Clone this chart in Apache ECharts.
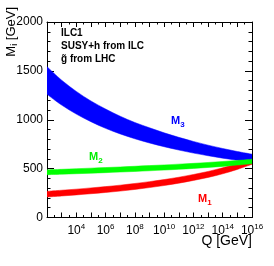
<!DOCTYPE html>
<html><head><meta charset="utf-8">
<script src="https://cdn.jsdelivr.net/npm/echarts@6/dist/echarts.min.js"></script>
<style>html,body{margin:0;padding:0;background:#fff}#c{width:274px;height:266px}</style>
</head><body><div id="c"></div>
<script>
const logQ = [2,3,4,5,6,7,8,9,10,11,12,13,14,15,16];
const m3Upper = [1543,1405,1290,1192,1110,1036,972,918,866,820,778,740,706,675,648];
const m3Lower = [1260,1150,1058,980,912,855,805,762,724,690,659,632,607,585,565];
const m2Upper = [488,493,499,505,511,517,524,531,538,546,554,563,573,584,596];
const m2Lower = [438,443,448,453,459,465,471,478,485,493,502,512,523,536,550];
const m1Upper = [268,279,290,303,316,331,348,367,388,412,440,471,508,552,605];
const m1Lower = [210,220,231,243,256,270,287,306,327,351,379,410,447,492,545];
const yTicks = [0,500,1000,1500,2000];
const xLabelExps = [4,6,8,10,12,14,16];
const textLines = ['ILC1','SUSY+h from ILC','g\u0303 from LHC'];

const FONT = 'Liberation Sans, Arial, sans-serif';
const chart = echarts.init(document.getElementById('c'));

// Catmull-Rom spline through pixel points -> path segment commands
function splinePath(pts, start) {
  let d = (start ? 'M' : 'L') + pts[0][0] + ' ' + pts[0][1];
  for (let i = 0; i < pts.length - 1; i++) {
    const p0 = pts[Math.max(i-1,0)], p1 = pts[i], p2 = pts[i+1], p3 = pts[Math.min(i+2,pts.length-1)];
    const c1 = [p1[0] + (p2[0]-p0[0])/6, p1[1] + (p2[1]-p0[1])/6];
    const c2 = [p2[0] - (p3[0]-p1[0])/6, p2[1] - (p3[1]-p1[1])/6];
    d += 'C' + c1[0] + ' ' + c1[1] + ' ' + c2[0] + ' ' + c2[1] + ' ' + p2[0] + ' ' + p2[1];
  }
  return d;
}

function band(name, lower, upper, color, z) {
  return {
    type:'custom', name:name, z:z, clip:true, silent:true,
    data: logQ.map((x,i)=>[x, lower[i], upper[i]]),
    encode:{x:0, y:[1,2]},
    renderItem: function(params, api) {
      if (params.dataIndex !== 0) return null;
      const n = params.dataInsideLength || logQ.length;
      const up = [], lo = [];
      for (let i = 0; i < logQ.length; i++) {
        up.push(api.coord([api.value(0, i), api.value(2, i)]));
        lo.push(api.coord([api.value(0, i), api.value(1, i)]));
      }
      lo.reverse();
      const d = splinePath(up, true) + splinePath(lo, false) + 'Z';
      return {type:'path', shape:{pathData:d}, style:{fill:color, stroke:color, lineWidth:0.5}};
    }
  };
}

const grid = {left:47, right:22, top:22, bottom:48.5};
const axisLine = {show:true, onZero:false, lineStyle:{color:'#000', width:1}};

chart.setOption({
  animation:false,
  backgroundColor:'#fff',
  grid: grid,
  xAxis: [
    {type:'value', min:2, max:16, interval:1, position:'bottom',
     axisLine: axisLine,
     axisTick:{show:true, inside:true, length:5, lineStyle:{color:'#000'}},
     minorTick:{show:true, splitNumber:2, length:2.5, lineStyle:{color:'#000'}},
     splitLine:{show:false},
     axisLabel:{show:true, margin:5, color:'#000', fontFamily:FONT,
       formatter:function(v){ return xLabelExps.indexOf(v)>=0 ? '{b|10}{s|'+v+'}' : ''; },
       rich:{b:{fontSize:12, lineHeight:16, fontFamily:FONT, color:'#000'},
             s:{fontSize:8, lineHeight:8, verticalAlign:'top', fontFamily:FONT, color:'#000'}}}},
    {type:'value', min:2, max:16, interval:1, position:'top',
     axisLine: axisLine,
     axisTick:{show:true, inside:true, length:5, lineStyle:{color:'#000'}},
     minorTick:{show:true, splitNumber:2, length:2.5, lineStyle:{color:'#000'}},
     splitLine:{show:false}, axisLabel:{show:false}}
  ],
  yAxis: [
    {type:'value', min:0, max:2000, interval:500, position:'left',
     axisLine: axisLine,
     axisTick:{show:true, inside:true, length:7, lineStyle:{color:'#000'}},
     minorTick:{show:true, splitNumber:5, length:3.5, lineStyle:{color:'#000'}},
     splitLine:{show:false},
     axisLabel:{margin:4, fontSize:12, color:'#000', fontFamily:FONT,
       formatter:function(v){ return yTicks.indexOf(v)>=0 ? String(v) : ''; }}},
    {type:'value', min:0, max:2000, interval:500, position:'right',
     axisLine: axisLine,
     axisTick:{show:true, inside:true, length:7, lineStyle:{color:'#000'}},
     minorTick:{show:true, splitNumber:5, length:3.5, lineStyle:{color:'#000'}},
     splitLine:{show:false}, axisLabel:{show:false}}
  ],
  series: [
    band('M1', m1Lower, m1Upper, '#ff0000', 2),
    band('M3', m3Lower, m3Upper, '#0000ff', 3),
    band('M2', m2Lower, m2Upper, '#00ff00', 4)
  ],
  graphic: [
    {type:'text', x:61, y:33, style:{text:textLines[0], font:'bold 10px '+FONT, fill:'#000', textVerticalAlign:'middle'}},
    {type:'text', x:61, y:46, style:{text:textLines[1], font:'bold 10px '+FONT, fill:'#000', textVerticalAlign:'middle'}},
    {type:'text', x:61, y:59, style:{text:textLines[2], font:'bold 10px '+FONT, fill:'#000', textVerticalAlign:'middle'}},
    {type:'text', x:171, y:121, z:10, style:{text:'{a|M}{b|3}', textVerticalAlign:'middle',
      rich:{a:{fontSize:11, fontWeight:'bold', fontFamily:FONT, fill:'#0000ff', lineHeight:16},
            b:{fontSize:8, fontWeight:'bold', fontFamily:FONT, fill:'#0000ff', lineHeight:8, verticalAlign:'bottom'}}}},
    {type:'text', x:89, y:157, z:10, style:{text:'{a|M}{b|2}', textVerticalAlign:'middle',
      rich:{a:{fontSize:11, fontWeight:'bold', fontFamily:FONT, fill:'#00ee00', lineHeight:16},
            b:{fontSize:8, fontWeight:'bold', fontFamily:FONT, fill:'#00ee00', lineHeight:8, verticalAlign:'bottom'}}}},
    {type:'text', x:198, y:199, z:10, style:{text:'{a|M}{b|1}', textVerticalAlign:'middle',
      rich:{a:{fontSize:11, fontWeight:'bold', fontFamily:FONT, fill:'#ff0000', lineHeight:16},
            b:{fontSize:8, fontWeight:'bold', fontFamily:FONT, fill:'#ff0000', lineHeight:8, verticalAlign:'bottom'}}}},
    {type:'text', x:252, y:241, style:{text:'Q [GeV]', font:'14px '+FONT, fill:'#000', textAlign:'right', textVerticalAlign:'middle'}},
    {type:'text', x:11, y:7, rotation:Math.PI/2, style:{text:'{a|M}{b|i}{a| [GeV]}', textAlign:'right', textVerticalAlign:'middle',
      rich:{a:{fontSize:13, fontFamily:FONT, fill:'#000', lineHeight:16},
            b:{fontSize:9, fontFamily:FONT, fill:'#000', lineHeight:9, verticalAlign:'bottom'}}}}
  ]
});
</script></body></html>
